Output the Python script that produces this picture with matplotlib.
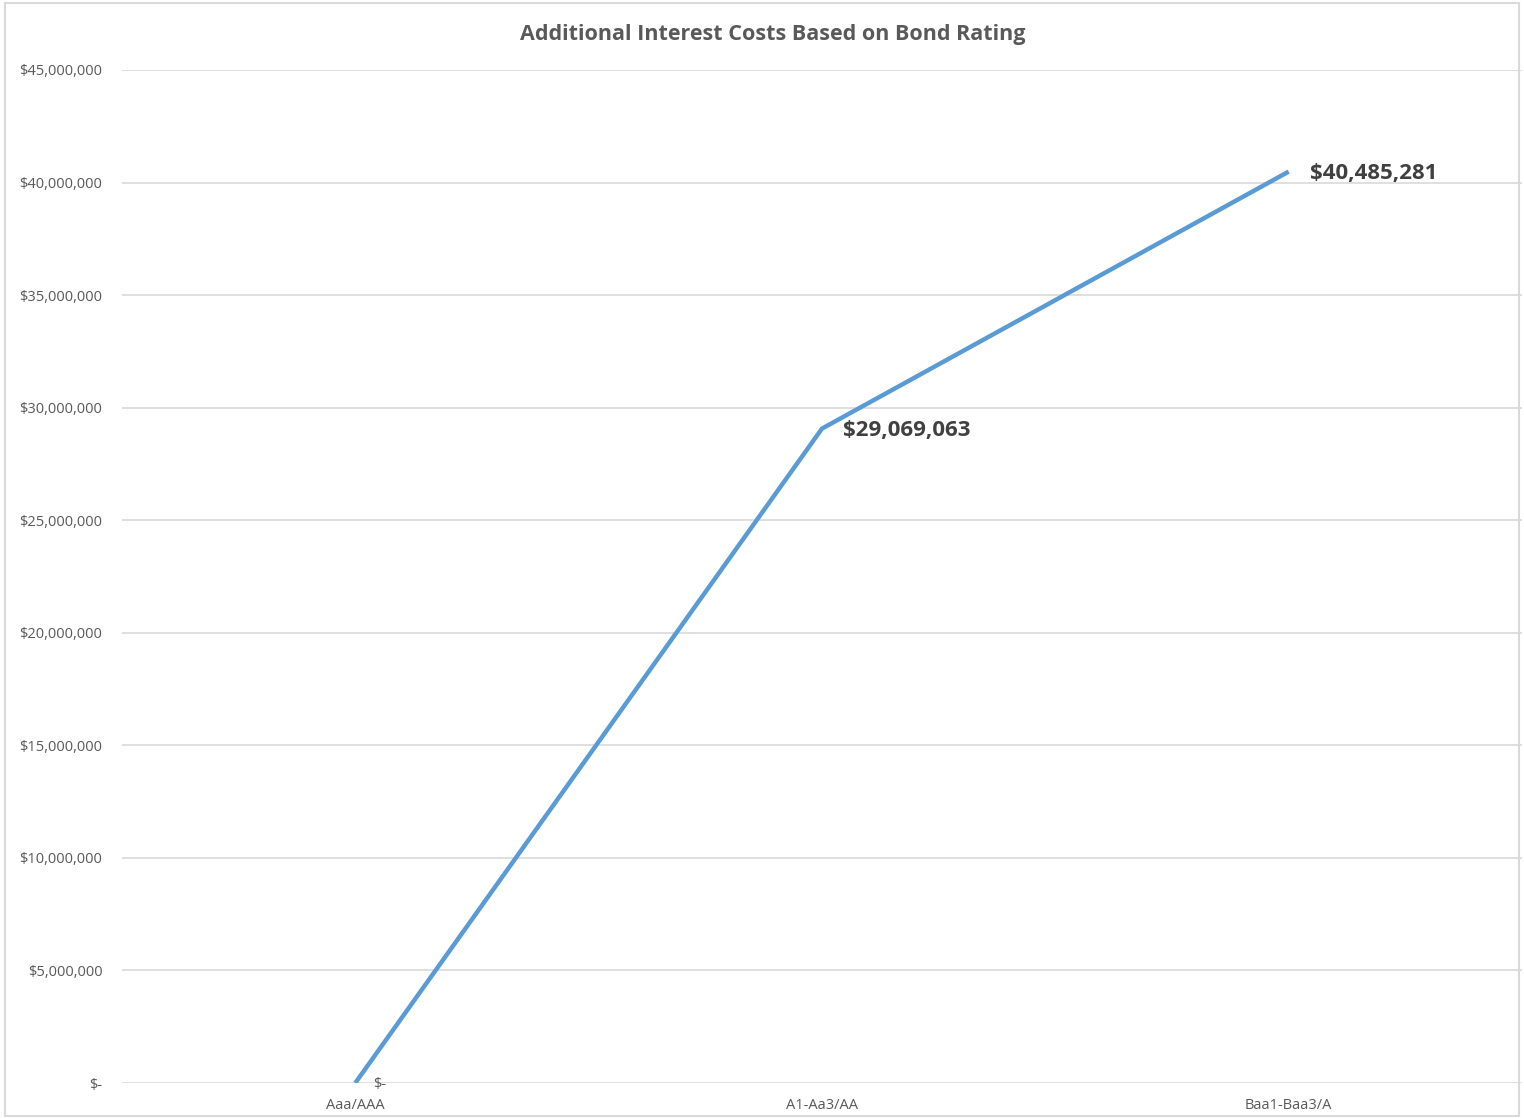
import matplotlib.pyplot as plt
from matplotlib.patches import Rectangle
from matplotlib.ticker import FuncFormatter

# Werte aus dem Diagramm
ratings = ["Aaa/AAA", "A1-Aa3/AA", "Baa1-Baa3/A"]
costs = [0, 29069063, 40485281]
y_ticks = [0, 5000000, 10000000, 15000000, 20000000, 25000000,
           30000000, 35000000, 40000000, 45000000]

plt.rcParams['font.family'] = ['Open Sans', 'DejaVu Sans']


def money(v, pos=None):
    if v == 0:
        return "$-"
    return "${:,.0f}".format(v)


fig = plt.figure(figsize=(15.24, 11.18), dpi=100)
ax = fig.add_axes([0.080, 0.0313, 0.9187, 0.9061])

# Rahmen um das ganze Diagramm
fig.patches.append(Rectangle((0.003, 0.002), 0.994, 0.995, transform=fig.transFigure,
                             fill=False, edgecolor="#D9D9D9", linewidth=1.5))

x = list(range(len(ratings)))
ax.plot(x, costs, color="#5B9BD5", linewidth=3.2, solid_capstyle="butt", zorder=3)

# Datenbeschriftungen
for xi, c in zip(x, costs):
    if c == 0:
        ax.annotate(money(c), (xi, c), xytext=(13, -1), textcoords="offset points",
                    ha="left", va="center", fontsize=10.5, color="#595959")
    else:
        ax.annotate(money(c), (xi, c), xytext=(15, -1), textcoords="offset points",
                    ha="left", va="center", fontsize=16, fontweight="bold", color="#404040")

ax.set_xlim(-0.5, 2.5)
ax.set_ylim(0, 45000000)
ax.set_xticks(x)
ax.set_xticklabels(ratings)
ax.set_yticks(y_ticks)
ax.yaxis.set_major_formatter(FuncFormatter(money))
ax.grid(axis="y", color="#D9D9D9", linewidth=1.2)
ax.set_axisbelow(True)
for s in ax.spines.values():
    s.set_visible(False)
ax.tick_params(axis="both", length=0, labelsize=10.5, labelcolor="#595959")
ax.tick_params(axis="y", pad=14)
ax.tick_params(axis="x", pad=11)

fig.text(0.507, 0.969, "Additional Interest Costs Based on Bond Rating",
         ha="center", va="center", fontsize=15.5, fontweight="bold", color="#595959")

fig.savefig("out.png", dpi=100)
